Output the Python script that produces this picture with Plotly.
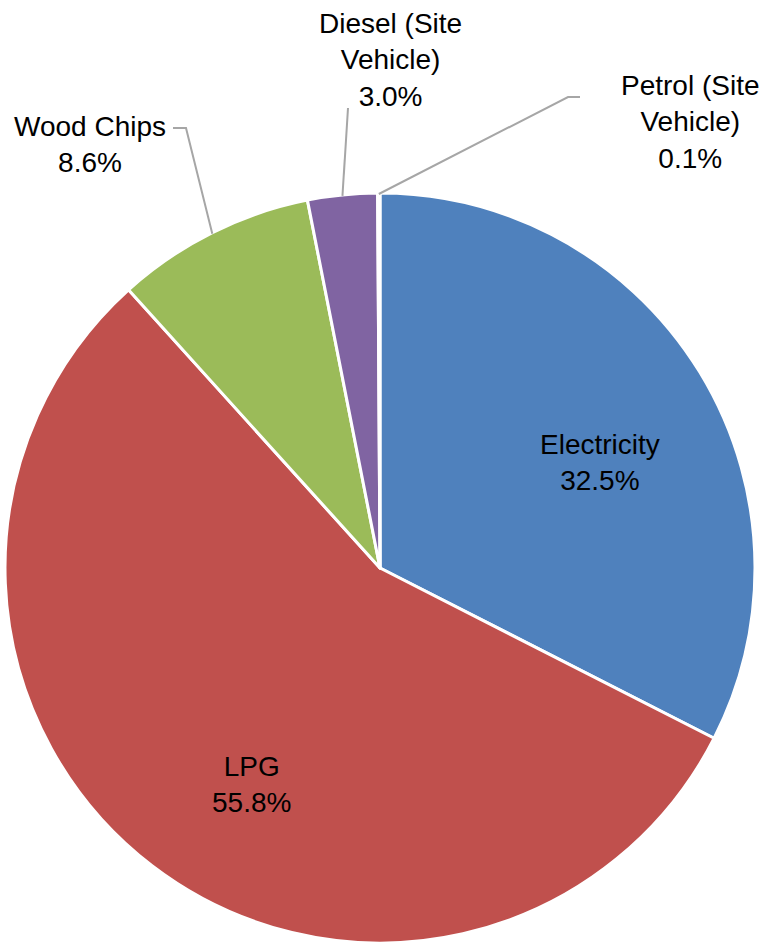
import math
import plotly.graph_objects as go

# Energy consumption share by source
sources = ["Electricity", "LPG", "Wood Chips", "Diesel (Site Vehicle)", "Petrol (Site Vehicle)"]
shares = [32.5, 55.8, 8.6, 3.0, 0.1]
label_lines = [["Electricity"], ["LPG"], ["Wood Chips"], ["Diesel (Site", "Vehicle)"], ["Petrol (Site", "Vehicle)"]]
colors = ["#4F81BD", "#C0504D", "#9BBB59", "#8064A2", "#4BACC6"]

W, H = 763, 943
FONT = "Liberation Sans, Arial, sans-serif"
FONT_SIZE = 28

# Pie geometry (pixels)
dom_x = (3, 757)
dom_top = 193
radius = min(dom_x[1] - dom_x[0], H - dom_top) / 2
cx = (dom_x[0] + dom_x[1]) / 2
cy = H - radius

# Label block centres (pixels) and leader-line elbows for outside labels
label_pos = [(600, 463), (251, 784), (90, 144), (390, 60), (690, 122)]
leader_elbow = [None, None, [(173, 128), (186, 128)], [(348, 108)], [(580, 97), (568, 97)]]


def px2paper(x, y):
    return x / W, 1 - y / H


def edge_point(frac_angle, r):
    th = math.radians(frac_angle * 360)
    return cx + r * math.sin(th), cy - r * math.cos(th)


fig = go.Figure(
    go.Pie(
        labels=sources,
        values=shares,
        sort=False,
        direction="clockwise",
        rotation=0,
        marker=dict(colors=colors, line=dict(color="white", width=3)),
        textinfo="none",
        hoverinfo="label+percent",
        showlegend=False,
        domain=dict(x=[dom_x[0] / W, dom_x[1] / W], y=[0, (H - dom_top) / H]),
    )
)

total = sum(shares)
cum = 0.0
annotations = []
shapes = []
for i, (lines, v) in enumerate(zip(label_lines, shares)):
    mid = (cum + v / 2) / total
    cum += v
    text = "<br>".join(lines + [f"{v / total * 100:.1f}%"])
    lx, ly = px2paper(*label_pos[i])
    annotations.append(dict(
        x=lx, y=ly, xref="paper", yref="paper", text=text, showarrow=False,
        xanchor="center", yanchor="middle", align="center",
        font=dict(family=FONT, size=FONT_SIZE, color="#000000"),
    ))
    if leader_elbow[i]:
        ex, ey = edge_point(mid, radius - 1)
        pts = leader_elbow[i] + [(ex, ey)]
        path = "M " + " L ".join(f"{px2paper(x, y)[0]:.5f},{px2paper(x, y)[1]:.5f}" for x, y in pts)
        shapes.append(dict(type="path", path=path, xref="paper", yref="paper",
                           line=dict(color="#A6A6A6", width=2)))

fig.update_layout(
    width=W, height=H,
    margin=dict(l=0, r=0, t=0, b=0),
    paper_bgcolor="white",
    plot_bgcolor="white",
    annotations=annotations,
    shapes=shapes,
)

fig.write_html("out.html")
